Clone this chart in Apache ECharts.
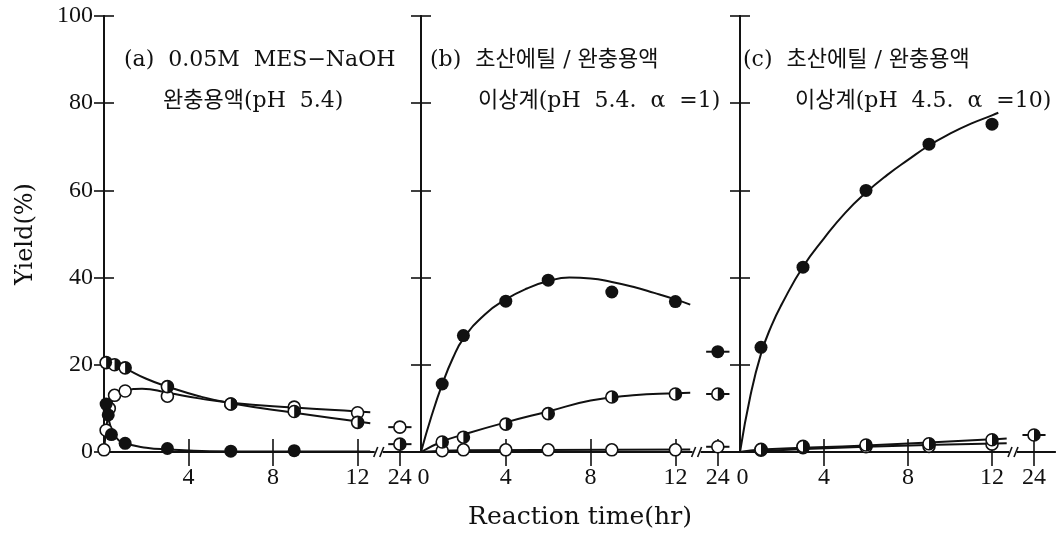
<!DOCTYPE html>
<html lang="ko">
<head>
<meta charset="UTF-8">
<title>Yield vs reaction time</title>
<script src="https://cdn.jsdelivr.net/npm/echarts@6.0.0/dist/echarts.min.js"></script>
<style>
  html, body { margin: 0; padding: 0; background: #fff; }
  #main { width: 1060px; height: 535px; }
</style>
</head>
<body>
<div id="main"></div>
<script>
// reaction time in hr; 24 hr sits past the axis break
var tickHours = [0, 4, 8, 12, 24];

// (a) 0.05M MES-NaOH buffer
var aFilledT = [0.1, 0.2, 0.35, 1, 3, 6, 9];
var aFilled  = [11, 8.5, 4, 2, 0.8, 0.2, 0.3];
var aOpenT   = [0, 0.1, 0.25, 0.5, 1, 3, 6, 9, 12, 24];
var aOpen    = [0.5, 5, 10, 13, 14, 12.8, 11, 10.3, 9, 5.7];
var aHalfT   = [0.1, 0.5, 1, 3, 6, 9, 12, 24];
var aHalf    = [20.5, 20, 19.3, 15, 11, 9.3, 6.8, 1.8];
var aFilledCurve = [[0, 12], [0.15, 10], [0.3, 6], [0.6, 3.2], [1, 2], [2, 1], [3, 0.6], [5, 0.2], [8, 0.1], [12.6, 0.1]];
var aOpenCurve   = [[0, 0], [0.1, 5], [0.25, 9.5], [0.5, 12.5], [1, 14], [1.8, 14.5], [3, 13.6], [4.5, 12.3], [6, 11.3], [9, 10.2], [12, 9.3], [12.6, 9.1]];
var aHalfCurve   = [[0, 21.5], [0.5, 20.3], [1, 19.2], [2, 16.8], [3, 15], [4.5, 12.8], [6, 11.2], [9, 9], [12, 7], [12.6, 6.6]];

// (b) ethyl acetate / buffer, pH 5.4, alpha 1
var bFilledT = [1, 2, 4, 6, 9, 12, 24];
var bFilled  = [15.6, 26.7, 34.6, 39.4, 36.7, 34.5, 23];
var bHalfT   = [1, 2, 4, 6, 9, 12, 24];
var bHalf    = [2.3, 3.4, 6.4, 8.8, 12.6, 13.3, 13.3];
var bOpenT   = [1, 2, 4, 6, 9, 12, 24];
var bOpen    = [0.3, 0.5, 0.5, 0.5, 0.5, 0.5, 1.2];
var bFilledCurve = [[0, 0], [0.5, 8.3], [1, 15.5], [1.5, 21.5], [2, 26], [3, 31.5], [4, 35], [5, 37.5], [6, 39.2], [7, 40], [8, 39.8], [9, 39], [10, 37.9], [11, 36.5], [12, 35], [12.7, 33.8]];
var bHalfCurve   = [[0, 0], [1, 2.4], [2, 4], [4, 6.8], [6, 9.3], [8, 11.8], [10, 13], [12, 13.5], [12.7, 13.6]];
var bOpenCurve   = [[0, 0], [2, 0.4], [12.7, 0.6]];

// (c) ethyl acetate / buffer, pH 4.5, alpha 10
var cFilledT = [1, 3, 6, 9, 12];
var cFilled  = [24, 42.4, 60, 70.6, 75.2];
var cOpenT   = [1, 3, 6, 9, 12];
var cOpen    = [0.4, 1, 1.2, 1.3, 1.8];
var cHalfT   = [1, 3, 6, 9, 12, 24];
var cHalf    = [0.6, 1.3, 1.6, 1.9, 2.8, 3.9];
var cFilledCurve = [[0, 0], [0.5, 13], [1, 22.5], [1.5, 29], [2, 34], [3, 42.5], [4, 49], [5, 54.8], [6, 59.5], [7, 63.5], [8, 67], [9, 70.3], [10, 73], [11, 75.3], [12, 77.2], [12.3, 77.8]];
var cOpenCurve   = [[0, 0], [6, 1.2], [12.7, 2]];
var cHalfCurve   = [[0, 0], [1, 0.6], [6, 1.5], [12, 2.9], [12.7, 3.1]];

var INK = '#111';
var SERIF = '"Liberation Serif", "Noto Sans CJK KR", serif';
var WIDE = '"DejaVu Serif", "Noto Sans CJK KR", serif';
var halfPath = 'path://M0,0 A10,10 0 0,1 0,20 Z';

// 24 hr is drawn at 14 on the axis (after the break)
function mx(t) { return t > 13 ? 14 + (t - 24) : t; }
function pts(ts, vs) { return ts.map(function (t, i) { return [mx(t), vs[i]]; }); }

function curve(k, data) {
  return { type: 'line', xAxisIndex: 2 * k, yAxisIndex: 2 * k, smooth: 0.5, showSymbol: false, silent: true,
    data: data.map(function (p) { return [mx(p[0]), p[1]]; }),
    lineStyle: { color: INK, width: 2 }, z: 2 };
}
function dashes(k, ts, vs) {
  var out = [];
  ts.forEach(function (t, i) {
    if (t > 13) {
      out.push({ type: 'line', xAxisIndex: 2 * k, yAxisIndex: 2 * k, showSymbol: false, silent: true,
        data: [[mx(t - 0.55), vs[i]], [mx(t + 0.55), vs[i]]], lineStyle: { color: INK, width: 2 }, z: 2 });
    }
  });
  return out;
}
function filled(k, ts, vs) {
  return { type: 'scatter', xAxisIndex: 2 * k, yAxisIndex: 2 * k, symbol: 'circle', symbolSize: 13,
    data: pts(ts, vs), itemStyle: { color: INK, opacity: 1 }, z: 5 };
}
function open(k, ts, vs) {
  return { type: 'scatter', xAxisIndex: 2 * k, yAxisIndex: 2 * k, symbol: 'circle', symbolSize: 12,
    data: pts(ts, vs), itemStyle: { color: '#fff', borderColor: INK, borderWidth: 1.6, opacity: 1 }, z: 4 };
}
function half(k, ts, vs) {
  return [open(k, ts, vs), {
    type: 'scatter', xAxisIndex: 2 * k, yAxisIndex: 2 * k, symbol: halfPath, symbolSize: [6, 12], symbolOffset: [3, 0],
    data: pts(ts, vs), itemStyle: { color: INK, opacity: 1 }, z: 6 }];
}

var grids = [
  { left: 104, top: 16, width: 317, height: 436 },
  { left: 421, top: 16, width: 318, height: 436 },
  { left: 740, top: 16, width: 315, height: 436 }
];
var tickPos = tickHours.map(mx);

var xAxes = [], yAxes = [];
grids.forEach(function (g, k) {
  xAxes.push({
    type: 'value', gridIndex: k, position: 'bottom', min: 0, max: 15,
    axisLine: { show: true, lineStyle: { color: INK, width: 1.8 } },
    axisTick: { show: true, inside: true, length: 13, customValues: tickPos.slice(1), lineStyle: { color: INK, width: 1.6 } },
    axisLabel: { customValues: k === 0 ? tickPos.slice(1) : tickPos, margin: 14, color: INK, fontFamily: SERIF, fontSize: 24,
      formatter: function (v) { return v === 0 ? '{z|0}' : (v === 14 ? '24' : String(v)); },
      rich: { z: { fontFamily: SERIF, fontSize: 24, color: INK, padding: [0, 0, 0, 5] } } },
    splitLine: { show: false },
    name: k === 1 ? 'Reaction time(hr)' : '', nameLocation: 'middle', nameGap: 53,
    nameTextStyle: { color: INK, fontFamily: WIDE, fontSize: 25 }
  });
  xAxes.push({
    type: 'value', gridIndex: k, position: 'top', min: 0, max: 15,
    axisLine: { show: true, lineStyle: { color: INK, width: 1.8 } },
    axisTick: { show: true, inside: true, length: 14, customValues: tickPos.slice(1), lineStyle: { color: INK, width: 1.6 } },
    axisLabel: { show: false }, splitLine: { show: false }
  });
  [0, 1].forEach(function (side) {
    yAxes.push({
      type: 'value', gridIndex: k, position: side ? 'right' : 'left', min: 0, max: 100, interval: 20,
      axisLine: { show: true, lineStyle: { color: INK, width: 1.8 } },
      axisTick: { show: true, inside: true, length: 10, lineStyle: { color: INK, width: 1.6 } },
      axisLabel: { show: k === 0 && side === 0, margin: 11, color: INK, fontFamily: SERIF, fontSize: 24 },
      splitLine: { show: false },
      name: k === 0 && side === 0 ? 'Yield(%)' : '', nameLocation: 'middle', nameGap: 66, nameRotate: 90,
      nameTextStyle: { color: INK, fontFamily: WIDE, fontSize: 24 }
    });
  });
});

var series = [].concat(
  curve(0, aFilledCurve), curve(0, aOpenCurve), curve(0, aHalfCurve),
  dashes(0, aOpenT, aOpen), dashes(0, aHalfT, aHalf),
  filled(0, aFilledT, aFilled), open(0, aOpenT, aOpen), half(0, aHalfT, aHalf),

  curve(1, bFilledCurve), curve(1, bHalfCurve), curve(1, bOpenCurve),
  dashes(1, bFilledT, bFilled), dashes(1, bHalfT, bHalf), dashes(1, bOpenT, bOpen),
  filled(1, bFilledT, bFilled), open(1, bOpenT, bOpen), half(1, bHalfT, bHalf),

  curve(2, cFilledCurve), curve(2, cOpenCurve), curve(2, cHalfCurve),
  dashes(2, cHalfT, cHalf),
  filled(2, cFilledT, cFilled), open(2, cOpenT, cOpen), half(2, cHalfT, cHalf)
);

function note(text, left, top) {
  return { text: text, left: left, top: top, padding: 0,
    textStyle: { color: INK, fontFamily: WIDE, fontSize: 22, fontWeight: 'normal' } };
}

var myChart = echarts.init(document.getElementById('main'), null, { renderer: 'canvas' });
myChart.setOption({
  animation: false,
  backgroundColor: '#fff',
  title: [
    note('(a)  0.05M  MES−NaOH', 124, 49),
    note('완충용액(pH  5.4)', 163, 90),
    note('(b)  초산에틸 / 완충용액', 430, 49),
    note('이상계(pH  5.4.  α  =1)', 478, 90),
    note('(c)  초산에틸 / 완충용액', 743, 49),
    note('이상계(pH  4.5.  α  =10)', 795, 90)
  ],
  grid: grids,
  xAxis: xAxes,
  yAxis: yAxes,
  series: series
});

// axis break marks between 12 and 24
var gfx = [];
[0, 1, 2].forEach(function (k) {
  var b = myChart.convertToPixel({ gridIndex: k }, [13, 0]);
  var t = myChart.convertToPixel({ gridIndex: k }, [13, 100]);
  gfx.push({ type: 'rect', shape: { x: b[0] - 4, y: b[1] - 3, width: 8, height: 6 }, style: { fill: '#fff' }, z: 50 });
  gfx.push({ type: 'rect', shape: { x: t[0] - 3, y: t[1] - 3, width: 6, height: 6 }, style: { fill: '#fff' }, z: 50 });
  [-3, 3].forEach(function (d) {
    gfx.push({ type: 'line', shape: { x1: b[0] + d - 2, y1: b[1] + 5, x2: b[0] + d + 2, y2: b[1] - 5 },
      style: { stroke: INK, lineWidth: 1.6 }, z: 51 });
  });
});
myChart.setOption({ graphic: gfx });
</script>
</body>
</html>
